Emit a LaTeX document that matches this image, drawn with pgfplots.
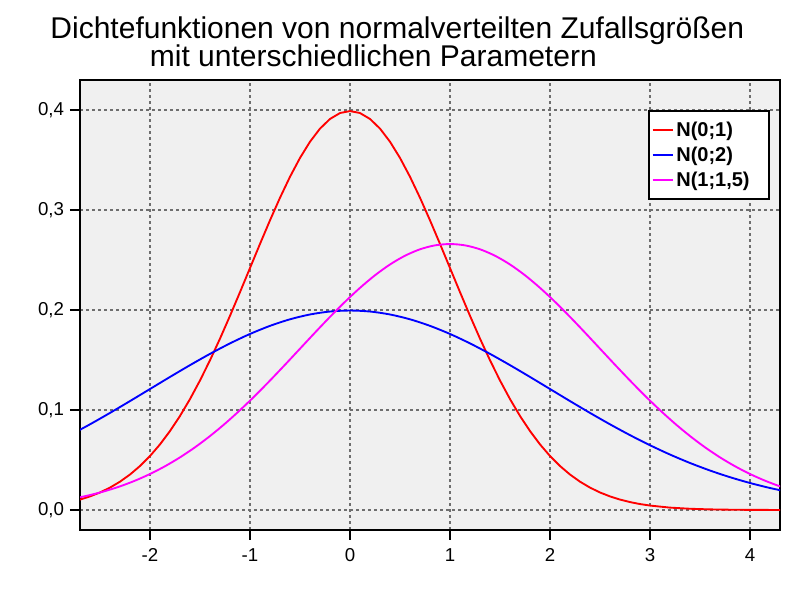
\documentclass[border=0pt]{standalone}
\usepackage{fontspec}
\setmainfont{Liberation Sans}
\usepackage{pgfplots}
\pgfplotsset{compat=1.18}
\definecolor{bgc}{RGB}{240,240,240}
\definecolor{gridc}{RGB}{110,110,110}
\definecolor{mag}{RGB}{255,0,255}
\definecolor{rd}{RGB}{255,0,0}
\definecolor{bl}{RGB}{0,0,255}
\begin{document}
\begin{tikzpicture}
\path (0,0) rectangle (600pt,450pt);
\node[anchor=base,font=\fontsize{22.5}{25}\selectfont] at (298pt,421pt) {Dichtefunktionen von normalverteilten Zufallsgrößen};
\node[anchor=base,font=\fontsize{22.5}{25}\selectfont] at (280pt,400pt) {mit unterschiedlichen Parametern};
\begin{axis}[
  at={(60pt,52.5pt)}, anchor=south west,
  scale only axis, width=525pt, height=337.5pt,
  xmin=-2.7, xmax=4.3, ymin=-0.02, ymax=0.43,
  axis background/.style={fill=bgc},
  axis line style={line width=1.5pt},
  xtick={-2,-1,0,1,2,3,4},
  xticklabels={-2,-1,0,1,2,3,4},
  ytick={0,0.1,0.2,0.3,0.4},
  yticklabels={{0,0},{0,1},{0,2},{0,3},{0,4}},
  tick align=outside, major tick length=7.5pt,
  every tick/.style={line width=1.5pt, black},
  xtick pos=bottom, ytick pos=left,
  tick label style={font=\fontsize{14}{16}\selectfont},
  xticklabel style={yshift=-3pt},
  yticklabel style={xshift=-1pt},
  grid=major,
  major grid style={gridc, line width=0.9pt, dash pattern=on 2.25pt off 2.25pt},
  legend style={at={(axis description cs:0.9857,0.9333)}, anchor=north east,
    draw=black, line width=1.5pt, fill=white,
    font=\bfseries\fontsize{15}{18}\selectfont, row sep=2.5pt,
    inner xsep=2pt, inner ysep=6pt},
  legend cell align=left,
  legend image code/.code={\draw[#1, line width=1.5pt] (0pt,0pt) -- (15pt,0pt);},
]
\addplot[rd, line width=1.4pt] coordinates {
(-2.8,0.00792) (-2.7,0.01042) (-2.6,0.01358) (-2.5,0.01753) (-2.4,0.02239)
(-2.3,0.02833) (-2.2,0.03547) (-2.1,0.04398) (-2.0,0.05399) (-1.9,0.06562)
(-1.8,0.07895) (-1.7,0.09405) (-1.6,0.11092) (-1.5,0.12952) (-1.4,0.14973)
(-1.3,0.17137) (-1.2,0.19419) (-1.1,0.21785) (-1.0,0.24197) (-0.9,0.26609)
(-0.8,0.28969) (-0.7,0.31225) (-0.6,0.33322) (-0.5,0.35207) (-0.4,0.36827)
(-0.3,0.38139) (-0.2,0.39104) (-0.1,0.39695) (0.0,0.39894) (0.1,0.39695)
(0.2,0.39104) (0.3,0.38139) (0.4,0.36827) (0.5,0.35207) (0.6,0.33322)
(0.7,0.31225) (0.8,0.28969) (0.9,0.26609) (1.0,0.24197) (1.1,0.21785)
(1.2,0.19419) (1.3,0.17137) (1.4,0.14973) (1.5,0.12952) (1.6,0.11092)
(1.7,0.09405) (1.8,0.07895) (1.9,0.06562) (2.0,0.05399) (2.1,0.04398)
(2.2,0.03547) (2.3,0.02833) (2.4,0.02239) (2.5,0.01753) (2.6,0.01358)
(2.7,0.01042) (2.8,0.00792) (2.9,0.00595) (3.0,0.00443) (3.2,0.00238)
(3.4,0.00123) (3.6,0.00061) (3.8,0.00029) (4.0,0.00013) (4.2,0.00006)
(4.4,0.00002)
};
\addlegendentry{N(0;1)\rule{10.5pt}{0pt}}
\addplot[bl, line width=1.4pt, smooth] coordinates {
(-2.8,0.074865) (-2.6,0.085685) (-2.4,0.097095) (-2.2,0.108925) (-2.0,0.120985)
(-1.8,0.133045) (-1.6,0.144845) (-1.4,0.156125) (-1.2,0.16661) (-1.0,0.176035)
(-0.8,0.184135) (-0.6,0.190695) (-0.4,0.19552) (-0.2,0.198475) (0.0,0.19947)
(0.2,0.198475) (0.4,0.19552) (0.6,0.190695) (0.8,0.184135) (1.0,0.176035)
(1.2,0.16661) (1.4,0.156125) (1.6,0.144845) (1.8,0.133045) (2.0,0.120985)
(2.2,0.108925) (2.4,0.097095) (2.6,0.085685) (2.8,0.074865) (3.0,0.06476)
(3.2,0.05546) (3.4,0.047025) (3.6,0.039475) (3.8,0.03281) (4.0,0.026995)
(4.2,0.02199) (4.4,0.017735)
};
\addlegendentry{N(0;2)\rule{10.5pt}{0pt}}
\addplot[mag, line width=1.4pt, smooth] coordinates {
(-2.75,0.011687) (-2.6,0.014927) (-2.45,0.018887) (-2.3,0.023647) (-2.15,0.02932)
(-2.0,0.035993) (-1.85,0.043747) (-1.7,0.052633) (-1.55,0.0627) (-1.4,0.073947)
(-1.25,0.086347) (-1.1,0.09982) (-0.95,0.114247) (-0.8,0.12946) (-0.65,0.145233)
(-0.5,0.161313) (-0.35,0.177393) (-0.2,0.193127) (-0.05,0.208167) (0.1,0.222147)
(0.25,0.234713) (0.4,0.245513) (0.55,0.25426) (0.7,0.260693) (0.85,0.264633)
(1.0,0.26596) (1.15,0.264633) (1.3,0.260693) (1.45,0.25426) (1.6,0.245513)
(1.75,0.234713) (1.9,0.222147) (2.05,0.208167) (2.2,0.193127) (2.35,0.177393)
(2.5,0.161313) (2.65,0.145233) (2.8,0.12946) (2.95,0.114247) (3.1,0.09982)
(3.25,0.086347) (3.4,0.073947) (3.55,0.0627) (3.7,0.052633) (3.85,0.043747)
(4.0,0.035993) (4.15,0.02932) (4.3,0.023647) (4.45,0.018887)
};
\addlegendentry{N(1;1,5)\rule{10.5pt}{0pt}}
\end{axis}
\end{tikzpicture}
\end{document}
